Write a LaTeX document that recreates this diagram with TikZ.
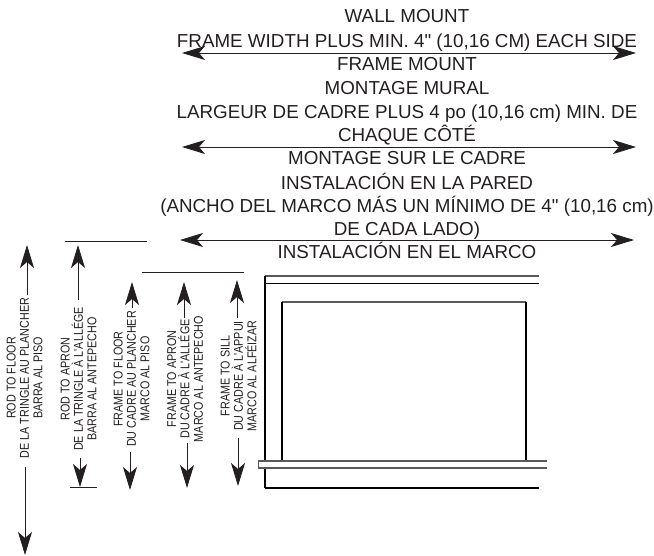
\documentclass[tikz,border=0pt]{standalone}
\usepackage{fontspec}
\newfontfamily\lib{Liberation Sans}
\newfontfamily\libn[FakeStretch=0.84]{Liberation Sans}
\usetikzlibrary{arrows.meta}
\definecolor{ink}{HTML}{231F20}
\tikzset{
  bigtext/.style={font=\lib\fontsize{18.8}{18.8}\selectfont, text=ink, inner sep=0pt, anchor=base},
  sidetext/.style={font=\libn\fontsize{12.8}{13.4}\selectfont, text=ink, inner sep=0pt, rotate=90, align=center, anchor=center},
  dimline/.style={draw=ink, line width=0.9pt, {Stealth[length=23pt,width=14pt,inset=6pt]}-{Stealth[length=23pt,width=14pt,inset=6pt]}},
  uparrow/.style={draw=ink, line width=0.9pt, -{Stealth[length=23pt,width=14pt,inset=6pt]}},
  rule/.style={draw=ink, line width=1pt},
  thinwall/.style={draw=black, line width=1.1pt},
  thickwall/.style={draw=black, line width=1.6pt},
  grayedge/.style={draw=black!65, line width=1.2pt},
}
\begin{document}
\begin{tikzpicture}[x=1pt,y=-1pt]
\useasboundingbox (0,0) rectangle (654,556);
% top labels
\node[bigtext] (t1) at (407,22.7) {WALL MOUNT};
\node[bigtext] (t2) at (407,47.5) {FRAME WIDTH PLUS MIN. 4" (10,16 CM) EACH SIDE};
\node[bigtext] (t3) at (407,71) {FRAME MOUNT};
\node[bigtext] (t4) at (407,95) {MONTAGE MURAL};
\node[bigtext] (t5) at (407,119) {LARGEUR DE CADRE PLUS 4 po (10,16 cm) MIN. DE};
\node[bigtext] (t6) at (407,141.7) {CHAQUE CÔTÉ};
\node[bigtext] (t7) at (407,165) {MONTAGE SUR LE CADRE};
\node[bigtext] (t8) at (407,189.5) {INSTALACIÓN EN LA PARED};
\node[bigtext] (t9) at (407,213) {(ANCHO DEL MARCO MÁS UN MÍNIMO DE 4" (10,16 cm)};
\node[bigtext] (t10) at (407,236) {DE CADA LADO)};
\node[bigtext] (t11) at (407,258.5) {INSTALACIÓN EN EL MARCO};
% horizontal dimension arrows
\coordinate (h1l) at (182,53); \coordinate (h1r) at (636,53);
\coordinate (h2l) at (182,147); \coordinate (h2r) at (636,147);
\coordinate (h3l) at (180,240); \coordinate (h3r) at (634,240);
\draw[dimline] (h1l) -- (h1r);
\draw[dimline] (h2l) -- (h2r);
\draw[dimline] (h3l) -- (h3r);
% vertical labels
\node[sidetext] (a) at (24.5,378) {ROD TO FLOOR\\DE LA TRINGLE AU PLANCHER\\BARRA AL PISO};
\node[sidetext] (b) at (78.5,379) {ROD TO APRON\\DE LA TRINGLE À L'ALLÉGE\\BARRA AL ANTEPECHO};
\node[sidetext] (c) at (131.5,379) {FRAME TO FLOOR\\DU CADRE AU PLANCHER\\MARCO AL PISO};
\node[sidetext] (d) at (185,379) {FRAME TO APRON\\DU CADRE À L'ALLÉGE\\MARCO AL ANTEPECHO};
\node[sidetext] (e) at (238.5,376) {FRAME TO SILL\\DU CADRE À L'APPUI\\MARCO AL ALFÉIZAR};
% vertical arrows
\coordinate (a1) at (27,295); \coordinate (a2) at (27,245);
\coordinate (a3) at (25,467); \coordinate (a4) at (25,555);
\coordinate (b1) at (78,300); \coordinate (b2) at (78,245);
\coordinate (b3) at (80,458); \coordinate (b4) at (80,487);
\coordinate (c1) at (132,308); \coordinate (c2) at (132,282);
\coordinate (c3) at (130,452); \coordinate (c4) at (130,490);
\coordinate (d1) at (184,318); \coordinate (d2) at (184,282);
\coordinate (d3) at (187,443); \coordinate (d4) at (187,488);
\coordinate (e1) at (237,318); \coordinate (e2) at (237,280);
\coordinate (e3) at (238,438); \coordinate (e4) at (238,486);
\foreach \n in {a,b,c,d,e}{
  \draw[uparrow] (\n1) -- (\n2);
  \draw[uparrow] (\n3) -- (\n4);
}
% extension rules
\coordinate (r1a) at (65,242); \coordinate (r1b) at (147,242);
\coordinate (r2a) at (142,273); \coordinate (r2b) at (244,273);
\coordinate (r3a) at (70,487); \coordinate (r3b) at (97,487);
\draw[rule] (r1a) -- (r1b);
\draw[rule] (r2a) -- (r2b);
\draw[rule] (r3a) -- (r3b);
% window elevation
\draw[grayedge] (265,276) -- (539,276);
\draw[thinwall] (265,283.5) -- (539,283.5);
\draw[thickwall] (265,276) -- (265,488);
\draw[thinwall] (265,488) -- (539,488);
\draw[grayedge] (282,302) -- (526,302);
\draw[thickwall] (282,302) -- (282,461);
\draw[thickwall] (526,302) -- (526,461);
\fill[white] (259,461) rectangle (547,468);
\draw[grayedge, line width=1.4pt] (547,461) -- (258.5,461) -- (258.5,468) -- (547,468);
\end{tikzpicture}
\end{document}
